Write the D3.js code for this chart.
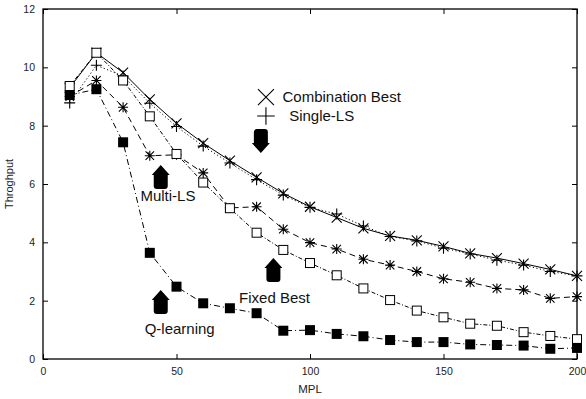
<!DOCTYPE html>
<html>
<head>
<meta charset="utf-8">
<script src="https://cdn.jsdelivr.net/npm/d3@7"></script>
<style>
  body { margin: 0; background: #fff; }
  svg { font-family: 'Liberation Sans', Arial, sans-serif; }
</style>
</head>
<body>
<div id="chart"></div>
<script>
const mpl = [10, 20, 30, 40, 50, 60, 70, 80, 90, 100, 110, 120, 130, 140, 150, 160, 170, 180, 190, 200];

const combinationBest = [9.3, 10.5, 9.82, 8.9, 8.08, 7.4, 6.8, 6.23, 5.68, 5.22, 4.85, 4.48, 4.22, 4.07, 3.86, 3.62, 3.46, 3.27, 3.07, 2.85];
const singleLS = [8.78, 10.07, 9.7, 8.77, 7.97, 7.3, 6.72, 6.15, 5.62, 5.2, 4.97, 4.56, 4.2, 4.05, 3.8, 3.6, 3.39, 3.22, 3.0, 2.85];
const multiLS = [9.0, 9.55, 8.63, 6.97, 7.0, 6.38, 5.18, 5.22, 4.45, 3.99, 3.77, 3.42, 3.22, 3.0, 2.75, 2.63, 2.42, 2.37, 2.08, 2.14];
const fixedBest = [9.36, 10.5, 9.55, 8.32, 7.03, 6.05, 5.17, 4.33, 3.74, 3.29, 2.87, 2.42, 2.02, 1.66, 1.43, 1.21, 1.14, 0.92, 0.79, 0.68];
const qLearning = [9.05, 9.25, 7.43, 3.64, 2.48, 1.91, 1.74, 1.57, 0.97, 0.99, 0.86, 0.78, 0.65, 0.58, 0.58, 0.5, 0.48, 0.46, 0.35, 0.38];

const xTicks = [0, 50, 100, 150, 200];
const yTicks = [0, 2, 4, 6, 8, 10, 12];

const series = [
  { name: 'Combination Best', values: combinationBest, marker: 'cross', dash: null },
  { name: 'Single-LS', values: singleLS, marker: 'plus', dash: '1.2,2.4' },
  { name: 'Multi-LS', values: multiLS, marker: 'star', dash: '6,4' },
  { name: 'Fixed Best', values: fixedBest, marker: 'openSquare', dash: '4,2,1,2' },
  { name: 'Q-learning', values: qLearning, marker: 'filledSquare', dash: '6,3,1,3' }
];

// labels and arrows, in data units
const labels = [
  { text: 'Combination Best', x: 89.7, y: 8.98, anchor: 'start' },
  { text: 'Single-LS', x: 92.2, y: 8.33, anchor: 'start' },
  { text: 'Multi-LS', x: 46.8, y: 5.59, anchor: 'middle' },
  { text: 'Fixed Best', x: 86.7, y: 2.1, anchor: 'middle' },
  { text: 'Q-learning', x: 51.2, y: 1.03, anchor: 'middle' }
];
const keyMarks = [
  { marker: 'cross', x: 83.5, y: 8.98 },
  { marker: 'plus', x: 83.5, y: 8.33 }
];
const arrows = [
  { x: 81.6, y: 7.06, dir: 'down' },
  { x: 44.1, y: 6.65, dir: 'up' },
  { x: 86.3, y: 3.46, dir: 'up' },
  { x: 44.1, y: 2.37, dir: 'up' }
];

const width = 586, height = 399;
const margin = { top: 9, right: 9, bottom: 40, left: 43 };
const w = width - margin.left - margin.right;
const h = height - margin.top - margin.bottom;

const svg = d3.select('#chart').append('svg')
  .attr('width', width)
  .attr('height', height);

const g = svg.append('g')
  .attr('transform', `translate(${margin.left},${margin.top})`);

const x = d3.scaleLinear().domain([0, 200]).range([0, w]);
const y = d3.scaleLinear().domain([0, 12]).range([h, 0]);

// axes with inward ticks
const axisStyle = sel => {
  sel.select('.domain').remove();
  sel.selectAll('line').attr('stroke', '#000');
  sel.selectAll('text').attr('fill', '#222').style('font-size', '10.5px');
};

g.append('g')
  .attr('transform', `translate(0,${h})`)
  .call(d3.axisBottom(x).tickValues(xTicks).tickSizeInner(-5).tickSizeOuter(0).tickPadding(9))
  .call(axisStyle);

g.append('g')
  .call(d3.axisLeft(y).tickValues(yTicks).tickSizeInner(-5).tickSizeOuter(0).tickPadding(8))
  .call(axisStyle);

g.append('g')
  .call(d3.axisTop(x).tickValues(xTicks).tickSizeInner(-5).tickSizeOuter(0).tickFormat(''))
  .call(axisStyle);

g.append('g')
  .attr('transform', `translate(${w},0)`)
  .call(d3.axisRight(y).tickValues(yTicks).tickSizeInner(-5).tickSizeOuter(0).tickFormat(''))
  .call(axisStyle);

g.append('rect')
  .attr('width', w).attr('height', h)
  .attr('fill', 'none').attr('stroke', '#000').attr('stroke-width', 1.3);

svg.append('text')
  .attr('transform', `translate(13,${margin.top + h / 2}) rotate(-90)`)
  .attr('text-anchor', 'middle')
  .style('font-size', '11px')
  .attr('fill', '#222')
  .text('Throghput');

svg.append('text')
  .attr('x', margin.left + x(100))
  .attr('y', 393)
  .attr('text-anchor', 'middle')
  .style('font-size', '11.5px')
  .attr('fill', '#222')
  .text('MPL');

const line = d3.line().x(d => x(d[0])).y(d => y(d[1]));

series.forEach(s => {
  g.append('path')
    .datum(mpl.map((m, i) => [m, s.values[i]]))
    .attr('d', line)
    .attr('fill', 'none')
    .attr('stroke', '#000')
    .attr('stroke-width', 1)
    .attr('stroke-dasharray', s.dash);
});

function drawMarker(sel, type, size) {
  const r = size / 2;
  if (type === 'cross') {
    sel.append('path').attr('d', `M${-r},${-r}L${r},${r}M${-r},${r}L${r},${-r}`)
      .attr('stroke', '#000').attr('stroke-width', 1.1).attr('fill', 'none');
  } else if (type === 'plus') {
    sel.append('path').attr('d', `M${-r * 1.1},0H${r * 1.1}M0,${-r * 1.1}V${r * 1.1}`)
      .attr('stroke', '#000').attr('stroke-width', 1.1).attr('fill', 'none');
  } else if (type === 'star') {
    const a = r * 0.85;
    sel.append('path').attr('d', `M${-a},${-a}L${a},${a}M${-a},${a}L${a},${-a}M${-r},0H${r}M0,${-r}V${r}`)
      .attr('stroke', '#000').attr('stroke-width', 1.1).attr('fill', 'none');
  } else if (type === 'openSquare') {
    sel.append('rect').attr('x', -r).attr('y', -r).attr('width', size).attr('height', size)
      .attr('fill', '#fff').attr('stroke', '#000').attr('stroke-width', 1);
  } else if (type === 'filledSquare') {
    sel.append('rect').attr('x', -r).attr('y', -r).attr('width', size).attr('height', size)
      .attr('fill', '#000');
  }
}

series.forEach(s => {
  const size = s.marker === 'openSquare' ? 9 : 10;
  mpl.forEach((m, i) => {
    const mk = g.append('g').attr('transform', `translate(${x(m)},${y(s.values[i])})`);
    drawMarker(mk, s.marker, size);
  });
});

keyMarks.forEach(k => {
  const mk = g.append('g').attr('transform', `translate(${x(k.x)},${y(k.y)})`);
  drawMarker(mk, k.marker, 16);
});

labels.forEach(l => {
  g.append('text')
    .attr('x', x(l.x)).attr('y', y(l.y))
    .attr('dy', '0.35em')
    .attr('text-anchor', l.anchor)
    .style('font-size', '15px')
    .attr('fill', '#111')
    .text(l.text);
});

// block arrows: tip at (x, y), 18px wide, 24px long
const arrowPath = 'M0,0 L9,10 L7,10 L7,21 Q7,24 4,24 L-4,24 Q-7,24 -7,21 L-7,10 L-9,10 Z';
arrows.forEach(a => {
  g.append('path')
    .attr('d', arrowPath)
    .attr('transform', `translate(${x(a.x)},${y(a.y)})` + (a.dir === 'down' ? ' scale(1,-1)' : ''))
    .attr('fill', '#000');
});
</script>
</body>
</html>
